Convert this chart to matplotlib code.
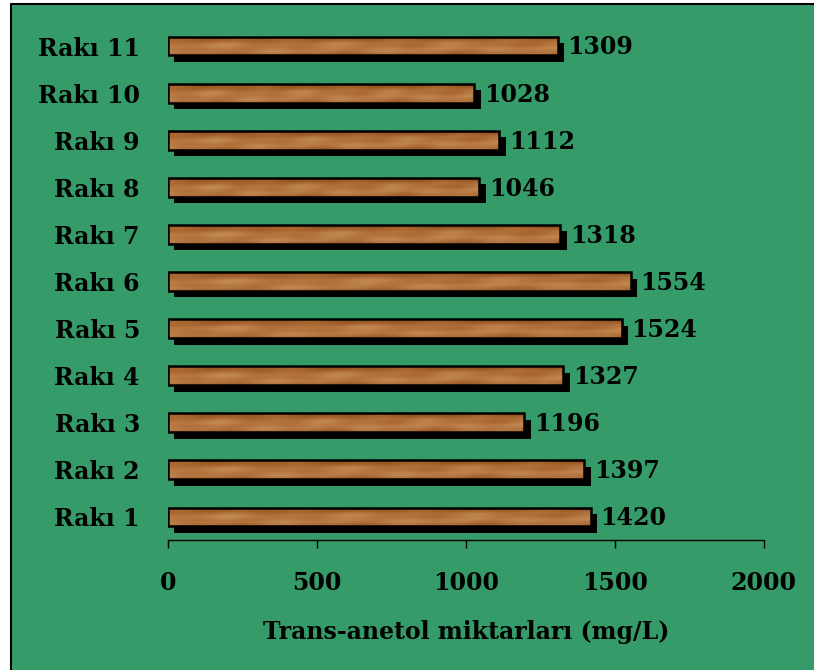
import numpy as np
import matplotlib
matplotlib.use("Agg")
import matplotlib.pyplot as plt
from matplotlib.patches import Rectangle
from matplotlib.transforms import ScaledTranslation
from matplotlib.colors import LinearSegmentedColormap

categories = ["Rakı 1", "Rakı 2", "Rakı 3", "Rakı 4", "Rakı 5", "Rakı 6",
              "Rakı 7", "Rakı 8", "Rakı 9", "Rakı 10", "Rakı 11"]
values = [1420, 1397, 1196, 1327, 1524, 1554, 1318, 1046, 1112, 1028, 1309]
xticks = [0, 500, 1000, 1500, 2000]
xlabel = "Trans-anetol miktarları (mg/L)"

GREEN = "#349b69"
FONT = "DejaVu Serif"
FS = 17

fig = plt.figure(figsize=(8.14, 6.70), dpi=100)
fig.patch.set_facecolor("white")
# green panel with black left/top border
W, H = 814, 670
fig.patches.append(Rectangle((11 / W, 0), 1 - 11 / W, 1 - 4 / H,
                             transform=fig.transFigure, facecolor=GREEN,
                             edgecolor="none", zorder=-10))
fig.lines.append(plt.Line2D([11 / W, 11 / W, 1], [0, 1 - 4 / H, 1 - 4 / H],
                            transform=fig.transFigure, color="black", lw=1.5,
                            zorder=-9))

ax = fig.add_axes([167.7 / W, (H - 540) / H, 596 / W, 517 / H])
ax.set_zorder(5)
ax.set_facecolor("none")

y = np.arange(len(categories))
h = 0.40

# shadows
off = ScaledTranslation(6.5 / 100, -6.5 / 100, fig.dpi_scale_trans)
shadows = ax.barh(y, values, height=h, color="black", zorder=1)
for p in shadows:
    p.set_transform(ax.transData + off)

# wood texture (soft horizontal grain, darker top edge)
cols, rows = 200, 20
X, Y = np.meshgrid(np.linspace(0, 1, cols), np.linspace(0, 1, rows))
profile = np.interp(Y, [0.0, 0.15, 0.35, 0.6, 0.85, 1.0],
                    [0.18, 0.38, 0.55, 0.66, 0.6, 0.48])
v = (profile
     + 0.09 * np.sin(2 * np.pi * (X * 3.3 + 0.3)) * np.cos(2 * np.pi * Y * 1.1)
     + 0.05 * np.sin(2 * np.pi * (X * 7.0 + Y * 0.5))
     + 0.04 * np.sin(2 * np.pi * Y * 2.5 + 4 * X))
wood = LinearSegmentedColormap.from_list(
    "wood", [(0, "#7e4519"), (0.45, "#a8652f"), (0.75, "#c08650"),
             (1, "#d19d68")])

bars = ax.barh(y, values, height=h, facecolor="none", edgecolor="black",
               linewidth=1.8, zorder=3)
for p, val, yi in zip(bars, values, y):
    im = ax.imshow(v, cmap=wood, vmin=0, vmax=1, aspect="auto",
                   extent=[0, val, yi - h / 2, yi + h / 2],
                   interpolation="bicubic", zorder=2, origin="upper")
    im.set_clip_path(p)

for val, yi in zip(values, y):
    ax.annotate(f"{val}", (val, yi), xytext=(7, -1), textcoords="offset points",
                va="center", ha="left", fontsize=FS, fontweight="bold",
                family=FONT, color="black", zorder=4)

ax.set_xlim(0, 2000)
ax.set_ylim(-0.49, len(categories) - 0.51)
ax.set_xticks(xticks)
ax.set_xticklabels([str(t) for t in xticks], fontsize=FS, fontweight="bold",
                   family=FONT)
ax.set_yticks(y)
ax.set_yticklabels(categories, fontsize=FS, fontweight="bold", family=FONT)
ax.tick_params(axis="y", length=0, pad=20)
ax.tick_params(axis="x", length=6, width=1, direction="out", pad=16,
               color="black")
for s in ["top", "right", "left"]:
    ax.spines[s].set_visible(False)
ax.spines["bottom"].set_linewidth(1)
ax.set_xlabel(xlabel, fontsize=FS, fontweight="bold", family=FONT, labelpad=18)

fig.savefig("out.png", dpi=100)
